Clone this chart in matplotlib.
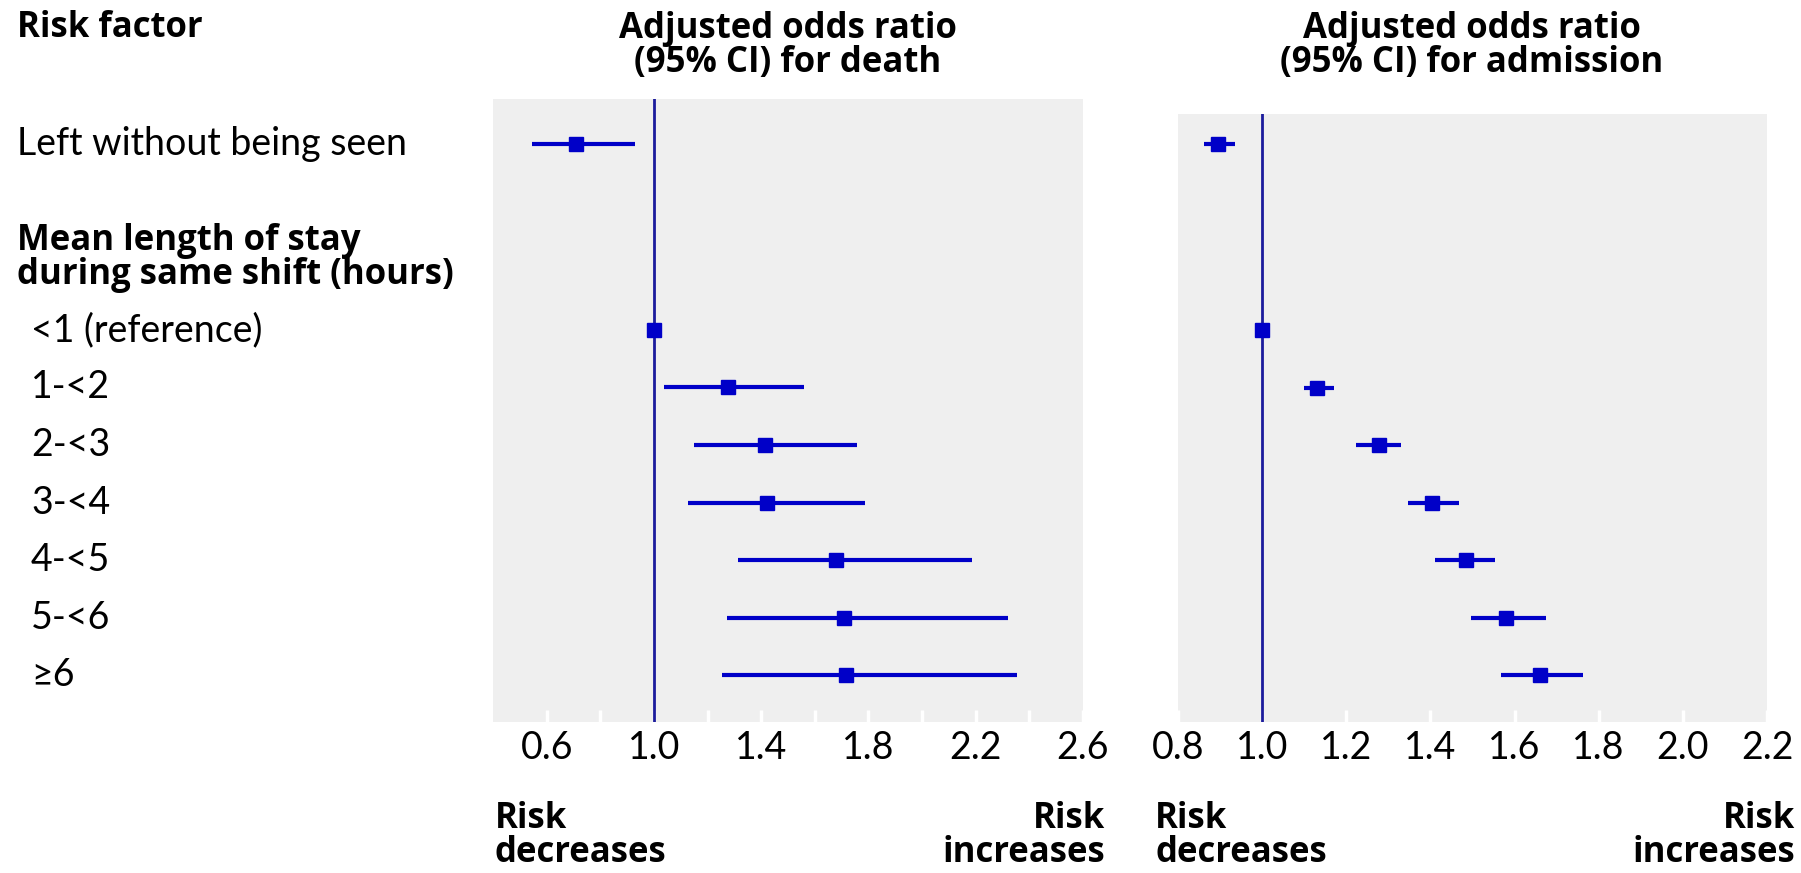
import numpy as np
import matplotlib
matplotlib.use('Agg')
import matplotlib.pyplot as plt
from matplotlib import transforms

plt.rcParams['font.family'] = ['Lato', 'DejaVu Sans']

# 행 라벨 / 데이터
row_labels = ['<1 (reference)', '1-<2', '2-<3', '3-<4', '4-<5', '5-<6', '\u22656']
row_pos = [0, 1, 2, 3, 4, 5, 6]
lwbs_pos = -3.23

# 사망 OR (left without being seen + 체류시간 구간)
death_or = [1.00, 1.277, 1.413, 1.421, 1.680, 1.710, 1.717]
death_lo = [1.00, 1.039, 1.151, 1.126, 1.313, 1.271, 1.255]
death_hi = [1.00, 1.559, 1.757, 1.788, 2.185, 2.319, 2.354]
death_lwbs = [0.711, 0.546, 0.931]

# 입원 OR
adm_or = [1.00, 1.130, 1.277, 1.404, 1.484, 1.579, 1.661]
adm_lo = [1.00, 1.099, 1.224, 1.347, 1.411, 1.496, 1.568]
adm_hi = [1.00, 1.171, 1.331, 1.469, 1.553, 1.675, 1.763]
adm_lwbs = [0.895, 0.862, 0.935]

W, H = 1801, 873
fig = plt.figure(figsize=(W / 100, H / 100), dpi=100)

def px(x0, y0, x1, y1):
    return [x0 / W, 1 - y1 / H, (x1 - x0) / W, (y1 - y0) / H]

ax1 = fig.add_axes(px(493, 99, 1083, 722))
ax2 = fig.add_axes(px(1178, 114, 1767, 722))

blue = '#0000c8'
navy = '#1c1c9c'
bg = '#efefef'
bold = dict(family=['Open Sans', 'DejaVu Sans'], fontweight='bold', fontsize=25)
RS = 27        # 보통 글씨 크기
LS = 0.93

def draw(ax, est, lo, hi, lwbs, xlim, major, minor, ytop):
    est = np.array(est); lo = np.array(lo); hi = np.array(hi)
    ax.set_facecolor(bg)
    ax.axvline(1.0, color=navy, lw=2, zorder=2)
    ax.errorbar(est, row_pos, xerr=[est - lo, hi - est], fmt='s', color=blue,
                ms=10.5, elinewidth=3, capsize=0, zorder=3)
    ax.errorbar([lwbs[0]], [lwbs_pos], xerr=[[lwbs[0] - lwbs[1]], [lwbs[2] - lwbs[0]]],
                fmt='s', color=blue, ms=10.5, elinewidth=3, capsize=0, zorder=3)
    ax.set_xlim(*xlim)
    ax.set_ylim(6.817, ytop)
    ax.set_xticks(major)
    ax.set_xticklabels(['%.1f' % v for v in major])
    ax.set_xticks(minor, minor=True)
    ax.tick_params(axis='x', which='both', direction='in', color='white',
                   length=9, width=2.5, pad=6, labelsize=RS)
    ax.set_yticks([])
    for s in ax.spines.values():
        s.set_visible(False)

draw(ax1, death_or, death_lo, death_hi, death_lwbs, (0.4, 2.6),
     [0.6, 1.0, 1.4, 1.8, 2.2, 2.6], np.arange(0.6, 2.61, 0.2), -4.017)
draw(ax2, adm_or, adm_lo, adm_hi, adm_lwbs, (0.8, 2.2),
     [0.8, 1.0, 1.2, 1.4, 1.6, 1.8, 2.0, 2.2], np.arange(0.8, 2.21, 0.2), -3.757)

# 왼쪽 라벨
tr = transforms.blended_transform_factory(fig.transFigure, ax1.transData)
fig.text(17 / W, 1 - 28 / H, 'Risk factor', va='center', **bold)
ax1.text(17 / W, lwbs_pos, 'Left without being seen', transform=tr, fontsize=RS, va='center')
fig.text(17 / W, 1 - 258 / H, 'Mean length of stay\nduring same shift (hours)',
         va='center', linespacing=LS, **bold)
for lab, y in zip(row_labels, row_pos):
    ax1.text(31 / W, y, lab, transform=tr, fontsize=RS, va='center')

# 제목
fig.text(788 / W, 1 - 46 / H, 'Adjusted odds ratio\n(95% CI) for death',
         ha='center', va='center', linespacing=LS, **bold)
fig.text(1472 / W, 1 - 46 / H, 'Adjusted odds ratio\n(95% CI) for admission',
         ha='center', va='center', linespacing=LS, **bold)

# 아래 설명 (그림 아래 끝에 붙임)
yb = 2 / H
fig.text(495 / W, yb, 'Risk\ndecreases', ha='left', va='bottom',
         linespacing=LS, **bold)
fig.text(1105 / W, yb, 'Risk\nincreases', ha='right', va='bottom',
         linespacing=LS, multialignment='right', **bold)
fig.text(1155 / W, yb, 'Risk\ndecreases', ha='left', va='bottom',
         linespacing=LS, **bold)
fig.text(1795 / W, yb, 'Risk\nincreases', ha='right', va='bottom',
         linespacing=LS, multialignment='right', **bold)

fig.savefig('out.png', dpi=100, facecolor='white')
